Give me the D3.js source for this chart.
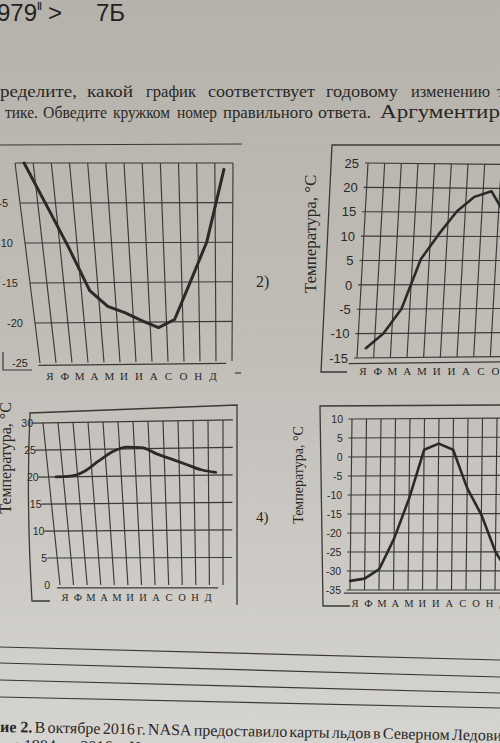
<!DOCTYPE html>
<html><head><meta charset="utf-8">
<script src="https://cdn.jsdelivr.net/npm/d3@7"></script>
<style>body{margin:0;background:#c4c1bb}svg{display:block}</style>
</head><body>
<svg id="c" width="500" height="743"></svg>
<script>
// ---------- data ----------
const months = ["Я","Ф","М","А","М","И","И","А","С","О","Н","Д"];
const temps1 = [0, -5.4, -10.6, -16, -18, -18.8, -19.8, -20.7, -19.7, -15, -10, -0.8];
const temps2 = [-13, -10, -5, 5.3, 10.5, 15.2, 18.2, 19.4, 14, 7, 0, -8];
const temps3 = [20, 20.1, 21, 22.8, 24.5, 25.3, 25.2, 24, 23, 22, 21, 20.5];
const temps4 = [-32.6, -32, -29.5, -21.5, -11, 1.8, 3.4, 1.8, -8.3, -15.3, -25, -31];
const ticks1 = [-5, -10, -15, -20, -25];
const grid1 = [0, -5, -10, -15, -20];
const ticks2 = [25, 20, 15, 10, 5, 0, -5, -10, -15];
const ticks3 = [30, 25, 20, 15, 10, 5, 0];
const grid3 = [30, 25, 20, 15, 10, 5];
const ticks4 = [10, 5, 0, -5, -10, -15, -20, -25, -30, -35];
const yLabel = "Температура, °С";

// ---------- page ----------
const svg = d3.select("#c");
const defs = svg.append("defs");
const grad = defs.append("linearGradient").attr("id","bg").attr("x1",0).attr("y1",0).attr("x2",0).attr("y2",1);
[["0%","#b5b2ab"],["45%","#c0bdb7"],["100%","#d6d4d0"]].forEach(([o,c])=>grad.append("stop").attr("offset",o).attr("stop-color",c));
svg.append("rect").attr("width",500).attr("height",743).attr("fill","url(#bg)");

const INK = "#2a2825";
const GRID = "#3b3936";
const SERIF = "'Liberation Serif','Times New Roman',serif";
const SANS = "'Liberation Sans',Arial,sans-serif";

// header
const hdr = svg.append("g").attr("fill","#232220").attr("font-family",SANS);
hdr.append("text").attr("x",-3).attr("y",21).attr("font-size",24).text("979");
hdr.append("text").attr("x",37).attr("y",10).attr("font-size",10).attr("font-weight","bold").text("ǁ");
hdr.append("text").attr("x",48).attr("y",21).attr("font-size",24).text(">");
hdr.append("text").attr("x",96).attr("y",21).attr("font-size",24).text("7Б");

// words placed into measured spans (photo perspective widens the right side)
function spanWords(g, words, y){
  words.forEach(([w,x0,x1,fs])=>{
    const t = g.append("text").attr("x",x0).attr("y",y)
      .attr("textLength", x1-x0).attr("lengthAdjust","spacingAndGlyphs").text(w);
    if (fs) t.attr("font-size", fs);
  });
}
// justified line: first word starts at x0, last word starts at x1
function justify(g, words, y, x0, x1){
  const nodes = words.map(w=>{
    const t = g.append("text").attr("y",y).text(w.t || w);
    if (w.b) t.attr("font-weight","bold");
    return t;
  });
  const widths = nodes.map(n=>n.node().getComputedTextLength());
  const n = nodes.length;
  const W = d3.sum(widths.slice(0,n-1));
  const gap = (x1 - x0 - W)/(n-1);
  let x = x0;
  nodes.forEach((nd,i)=>{ nd.attr("x", x); x += widths[i] + gap; });
}

const para1 = [["ределите,",0,77],["какой",87,133],["график",146,196],["соответствует",208,315],["годовому",326,398],["изменению",411,490],["те",497,512]];
const para2 = [["тике.",5,38],["Обведите",43,107],["кружком",113,170],["номер",177,217],["правильного",223,313],["ответа.",318,371],["Аргументир",380,500,19.5]];
const pg = svg.append("g").attr("fill",INK).attr("font-family",SERIF).attr("font-size",17.5);
spanWords(pg, para1, 97);
spanWords(pg, para2, 118);

function seg(g, pts, w, col){
  g.append("path").attr("d", d3.line()(pts)).attr("fill","none").attr("stroke",col||GRID).attr("stroke-width",w||1.2);
}

function bilinear(q){
  return (u,v)=>[
    (1-u)*(1-v)*q.tl[0] + u*(1-v)*q.tr[0] + (1-u)*v*q.bl[0] + u*v*q.br[0],
    (1-u)*(1-v)*q.tl[1] + u*(1-v)*q.tr[1] + (1-u)*v*q.bl[1] + u*v*q.br[1]
  ];
}

function drawChart(cfg){
  const g = svg.append("g");
  const P = bilinear(cfg.quad);
  const xs = d3.scaleLinear().domain([0,12]).range([0,1]);
  const ys = d3.scaleLinear().domain(cfg.yDomain).range([0,1]);
  const off = cfg.mode === "center" ? 0.5 : 0;
  d3.range(0,13).forEach(i=>{
    seg(g, [P(xs(i),0), P(xs(i),cfg.vEnd)], 1.15);
  });
  cfg.grid.forEach(t=>{
    seg(g, [P(-cfg.extL, ys(t)), P(1+cfg.extR, ys(t))], 1.15);
  });
  seg(g, [P(cfg.axis[0], cfg.axis[2]), P(cfg.axis[1], cfg.axis[2])], 1.3);
  g.append("g").attr("font-family",SANS).attr("font-size",cfg.tickSize).attr("fill",INK)
    .selectAll("text").data(cfg.ticks).join("text")
    .attr("x", t=>P(0, ys(t))[0]-cfg.labOff)
    .attr("y", t=>P(0, ys(t))[1])
    .attr("dy","0.36em").attr("text-anchor","end").text(t=>t);
  const ms = d3.scalePoint().domain(d3.range(12)).range(cfg.monthRange);
  g.append("g").attr("font-family",SERIF).attr("font-size",cfg.monthSize).attr("fill",INK)
    .selectAll("text").data(months).join("text")
    .attr("x",(m,i)=>ms(i)).attr("y",cfg.monthY).attr("text-anchor","middle").attr("dy","0.35em").text(m=>m);
  const line = d3.line()
    .x((d,i)=>P(xs(i+off), ys(d))[0])
    .y((d,i)=>P(xs(i+off), ys(d))[1])
    .curve(cfg.curve);
  g.append("path").attr("d", line(cfg.data)).attr("fill","none")
    .attr("stroke","#2c2a28").attr("stroke-width",cfg.lw).attr("stroke-linejoin","round").attr("stroke-linecap","round");
  return g;
}

// chart 1
drawChart({quad:{tl:[15,163],tr:[233,163],bl:[40,363],br:[232,361]}, yDomain:[0,-25], mode:"center",
  vEnd:1, grid:grid1, extL:0, extR:0, axis:[-0.01,0.97,1.012], ticks:ticks1, labOff:12, tickSize:11,
  monthRange:[50,213], monthY:376, monthSize:11, data:temps1, curve:d3.curveLinear, lw:3});
// chart 2
drawChart({quad:{tl:[368,163],tr:[568,165],bl:[357,358],br:[557,356]}, yDomain:[25,-15], mode:"center",
  vEnd:1, grid:ticks2, extL:0.015, extR:0, axis:[-0.04,1.1,1.028], ticks:ticks2, labOff:9, tickSize:13,
  monthRange:[363,525], monthY:371, monthSize:11, data:temps2, curve:d3.curveLinear, lw:2.6});
// chart 3
drawChart({quad:{tl:[43,423],tr:[223,420],bl:[60,585],br:[223,585]}, yDomain:[30,0], mode:"center",
  vEnd:1, grid:grid3, extL:0.06, extR:0.055, axis:[-0.02,0.97,1.018], ticks:ticks3, labOff:10, tickSize:10.5,
  monthRange:[65,208], monthY:597, monthSize:10.5, data:temps3, curve:d3.curveMonotoneX, lw:2.8});
// chart 4
drawChart({quad:{tl:[352,419],tr:[526,418],bl:[350,590],br:[524,590]}, yDomain:[10,-35], mode:"grid",
  vEnd:1, grid:ticks4, extL:0.02, extR:0, axis:[-0.035,1.1,1.018], ticks:ticks4, labOff:9, tickSize:10.5,
  monthRange:[355,503], monthY:603, monthSize:10.5, data:temps4, curve:d3.curveLinear, lw:2.6});

// frames
const fr = svg.append("g");
seg(fr, [[0,145],[242,144]], 1.2);
seg(fr, [[3,352],[3,370],[32,370]], 1.2);
seg(fr, [[235,373],[241,373]], 1.2);
seg(fr, [[500,145],[332,145],[321,372],[347,372]], 1.3);
fr.append("path").attr("d","M237,605 L237,405 L30,413 Q26,500 32,601 L50,601").attr("fill","none").attr("stroke",GRID).attr("stroke-width",1.3);
seg(fr, [[500,405],[320,406],[323,606],[350,606]], 1.3);

// axis titles & numbers
const at = svg.append("g").attr("fill",INK).attr("font-family",SERIF);
at.append("text").attr("transform","translate(316,234) rotate(-90)").attr("text-anchor","middle").attr("font-size",17).text(yLabel);
at.append("text").attr("transform","translate(303,475) rotate(-90)").attr("text-anchor","middle").attr("font-size",14).text(yLabel);
at.append("text").attr("transform","translate(11,458) rotate(-90)").attr("text-anchor","middle").attr("font-size",16).text(yLabel);
at.append("text").attr("x",256).attr("y",287).attr("font-size",16).text("2)");
at.append("text").attr("x",256).attr("y",522).attr("font-size",15).text("4)");

// answer lines
const ln = svg.append("g");
[[647,660],[663,677],[680,693],[697,708]].forEach(([a,b])=>seg(ln, [[0,a],[500,b]], 1.2, "#3a3835"));

// bottom text
const bt = svg.append("g").attr("transform","rotate(1.0,0,732)").attr("fill",INK).attr("font-family",SERIF).attr("font-size",16);
const bwords = [{t:"ие 2.",b:true},"В","октябре","2016","г.","NASA","предоставило","карты","льдов","в","Северном","Ледовит"];
justify(bt, bwords, 732, 0, 452);
bt.append("text").attr("x",13).attr("y",750).text("с 1984 по 2016 г. Н");
</script>
</body></html>
